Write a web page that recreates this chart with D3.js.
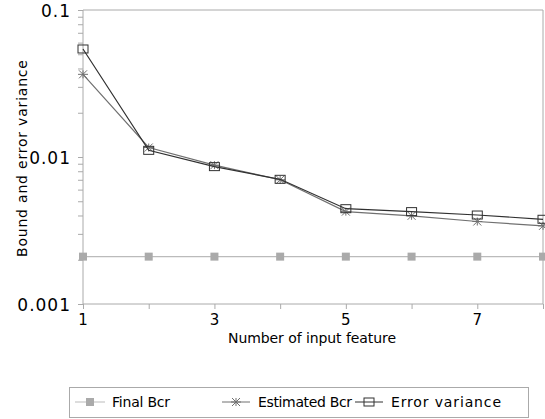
<!DOCTYPE html>
<html>
<head>
<meta charset="utf-8">
<script src="https://cdn.jsdelivr.net/npm/d3@7"></script>
<style>
  body { margin: 0; background: #fff; }
  text { font-family: "DejaVu Sans", sans-serif; fill: #000; }
</style>
</head>
<body>
<script>
// ---------------------- data ----------------------
var features = [1, 2, 3, 4, 5, 6, 7, 8];
var finalBcr = [0.0021, 0.0021, 0.0021, 0.0021, 0.0021, 0.0021, 0.0021, 0.0021];
var estimatedBcr = [0.0365, 0.0116, 0.0088, 0.0070, 0.00425, 0.00398, 0.00364, 0.0034];
var errorVariance = [0.0543, 0.0111, 0.0086, 0.00705, 0.00445, 0.00425, 0.00403, 0.00377];
var xTickLabels = [1, 3, 5, 7];
var yTickLabels = [0.1, 0.01, 0.001];

var svg = d3.select("body")
     .append("svg")
     .attr("width", 545)
     .attr("height", 419);

var x = d3.scaleLinear().domain([1, 8]).range([83, 543]);
var y = d3.scaleLog().domain([0.001, 0.1]).range([304, 10]);

// frame: top and right
svg.append("path")
     .attr("d", "M" + x(1) + "," + y(0.1) + "H" + x(8) + "V" + y(0.001))
     .attr("fill", "none")
     .attr("stroke", "#aaa");

// y axis
var yMinor = [];
[0.001, 0.01].forEach(function (d) {
     for (var k = 1; k <= 10; k++) yMinor.push(d * k);
});
var yAxis = svg.append("g")
     .attr("transform", "translate(" + x(1) + ",0)")
     .call(d3.axisLeft(y).tickValues(yMinor).tickSize(5).tickFormat(""));
yAxis.selectAll("line, path").attr("stroke", "#aaa");
yAxis.select(".domain").attr("d", "M0," + y(0.001) + "V" + y(0.1));

svg.selectAll(".ylab")
     .data(yTickLabels)
     .enter()
     .append("text")
     .attr("class", "ylab")
     .attr("x", 71)
     .attr("y", function (d) { return y(d) + 7; })
     .attr("text-anchor", "end")
     .style("font-size", "17px")
     .style("letter-spacing", "1px")
     .text(function (d) { return d3.format(".3~f")(d); });

// x axis
var xAxis = svg.append("g")
     .attr("transform", "translate(0," + y(0.001) + ")")
     .call(d3.axisBottom(x).tickValues(features).tickSize(5).tickFormat(""));
xAxis.selectAll("line, path").attr("stroke", "#aaa");
xAxis.select(".domain").attr("d", "M" + x(1) + ",0H" + x(8));

svg.selectAll(".xlab")
     .data(xTickLabels)
     .enter()
     .append("text")
     .attr("class", "xlab")
     .attr("x", function (d) { return x(d); })
     .attr("y", 325)
     .attr("text-anchor", "middle")
     .style("font-size", "15px")
     .text(function (d) { return d; });

// axis titles
svg.append("text")
     .attr("x", 228)
     .attr("y", 343)
     .attr("textLength", 168)
     .attr("lengthAdjust", "spacing")
     .style("font-size", "14px")
     .text("Number of input feature");

svg.append("text")
     .attr("transform", "translate(27,257) rotate(-90)")
     .attr("textLength", 197)
     .attr("lengthAdjust", "spacing")
     .style("font-size", "14px")
     .text("Bound and error variance");

// ---------------------- series ----------------------
var line = d3.line()
     .x(function (d, i) { return x(features[i]); })
     .y(function (d) { return y(d); });

var series = [
     { name: "Final Bcr", values: finalBcr, color: "#bbbbbb", marker: "fill" },
     { name: "Estimated Bcr", values: estimatedBcr, color: "#707070", marker: "star" },
     { name: "Error variance", values: errorVariance, color: "#303030", marker: "box" }
];

function drawMarker(g, type, cx, cy, color) {
     if (type === "fill") {
          g.append("rect")
               .attr("x", cx - 4).attr("y", cy - 4)
               .attr("width", 8).attr("height", 8)
               .attr("fill", "#aaaaaa");
     } else if (type === "box") {
          g.append("rect")
               .attr("x", cx - 5).attr("y", cy - 4)
               .attr("width", 10).attr("height", 8)
               .attr("fill", "none")
               .attr("stroke", color);
     } else {
          var r = 5;
          g.append("path")
               .attr("d", "M" + (cx - r) + "," + cy + "H" + (cx + r) +
                    "M" + (cx - 4) + "," + (cy - 4) + "L" + (cx + 4) + "," + (cy + 4) +
                    "M" + (cx - 4) + "," + (cy + 4) + "L" + (cx + 4) + "," + (cy - 4) +
                    "M" + cx + "," + (cy - 4) + "V" + (cy + 4))
               .attr("stroke", color)
               .attr("fill", "none");
     }
}

series.forEach(function (s) {
     svg.append("path")
          .datum(s.values)
          .attr("d", line)
          .attr("fill", "none")
          .attr("stroke", s.color)
          .attr("stroke-width", 1.2);
     var g = svg.append("g");
     s.values.forEach(function (v, i) {
          drawMarker(g, s.marker, x(features[i]), y(v), s.color);
     });
});

// ---------------------- legend ----------------------
svg.append("rect")
     .attr("x", 69.5).attr("y", 387.5)
     .attr("width", 459).attr("height", 30)
     .attr("fill", "none")
     .attr("stroke", "#aaa");

var legendPos = [
     { x0: 75, x1: 105, tx: 112, len: 58 },
     { x0: 222, x1: 250, tx: 258, len: 94 },
     { x0: 355, x1: 383, tx: 391, len: 110 }
];
series.forEach(function (s, i) {
     var p = legendPos[i];
     var g = svg.append("g");
     g.append("line")
          .attr("x1", p.x0).attr("x2", p.x1)
          .attr("y1", 402).attr("y2", 402)
          .attr("stroke", s.color);
     drawMarker(g, s.marker, (p.x0 + p.x1) / 2, 402, s.color);
     g.append("text")
          .attr("x", p.tx)
          .attr("y", 407)
          .attr("textLength", p.len)
          .attr("lengthAdjust", "spacing")
          .style("font-size", "14px")
          .text(s.name);
});
</script>
</body>
</html>
